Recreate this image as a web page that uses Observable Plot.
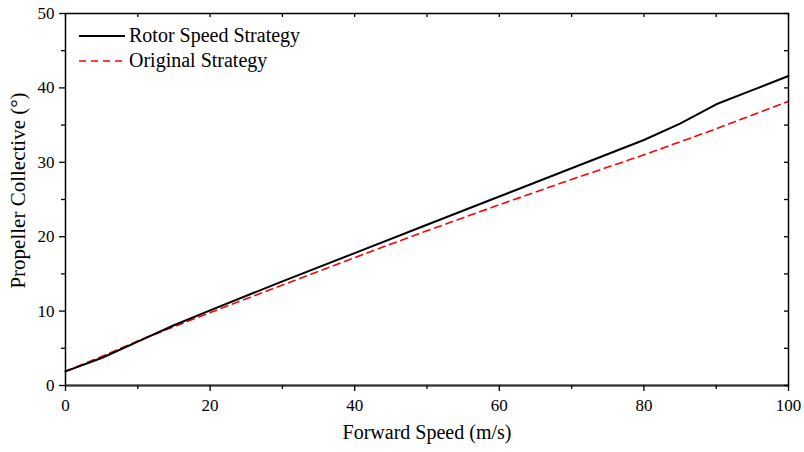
<!DOCTYPE html>
<html>
<head>
<meta charset="utf-8">
<script src="https://cdn.jsdelivr.net/npm/d3@7"></script>
<script src="https://cdn.jsdelivr.net/npm/@observablehq/plot@0.6"></script>
<style>
  html, body { margin: 0; padding: 0; background: #fff; }
  #wrap { position: relative; width: 804px; height: 452px; font-family: "Liberation Serif", "Times New Roman", serif; }
  #legend { position: absolute; left: 79px; top: 23px; font-size: 20px; color: #000; }
  #legend .row { display: flex; align-items: center; height: 25px; }
  #legend svg { margin-right: 4px; }
  svg text { font-family: "Liberation Serif", "Times New Roman", serif; }
</style>
</head>
<body>
<div id="wrap">
  <div id="chart"></div>
  <div id="legend"></div>
</div>
<script>
// Data
const speed = [0, 5, 10, 15, 20, 30, 40, 50, 60, 70, 80, 85, 90, 95, 100];
const rotorSpeedStrategy = [1.9, 3.7, 5.9, 8.1, 10.1, 14.0, 17.8, 21.6, 25.4, 29.2, 33.0, 35.2, 37.8, 39.7, 41.6];
const originalSpeed = [0, 5, 10, 20, 30, 40, 50, 60, 70, 80, 90, 100];
const originalStrategy = [1.9, 3.9, 6.0, 9.8, 13.5, 17.2, 20.8, 24.3, 27.7, 31.0, 34.5, 38.2];

const xMajor = [0, 20, 40, 60, 80, 100];
const xMinor = [10, 30, 50, 70, 90];
const yMajor = [0, 10, 20, 30, 40, 50];
const yMinor = [5, 15, 25, 35, 45];

const seriesNames = ["Rotor Speed Strategy", "Original Strategy"];
const xLabel = "Forward Speed (m/s)";
const yLabel = "Propeller Collective (°)";

const rotor = speed.map((x, i) => ({x, y: rotorSpeedStrategy[i]}));
const orig = originalSpeed.map((x, i) => ({x, y: originalStrategy[i]}));

const W = 804, H = 452, mT = 13, mB = 67, mL = 65, mR = 16;
const innerH = H - mT - mB, innerW = W - mL - mR;
const font = "Liberation Serif, Times New Roman, serif";

const chart = Plot.plot({
  width: W,
  height: H,
  marginTop: mT,
  marginBottom: mB,
  marginLeft: mL,
  marginRight: mR,
  style: {fontFamily: font, fontSize: "17px", color: "#000", background: "#fff"},
  x: {domain: [0, 100]},
  y: {domain: [0, 50]},
  marks: [
    // lines
    Plot.line(orig, {x: "x", y: "y", stroke: "#ff0000", strokeWidth: 1.6, strokeDasharray: "7,5"}),
    Plot.line(rotor, {x: "x", y: "y", stroke: "#000", strokeWidth: 2}),
    // frame
    Plot.frame({stroke: "#000", strokeWidth: 1.5}),
    Plot.ruleY([0], {stroke: "#333", strokeWidth: 2}),
    // bottom axis
    Plot.axisX({ticks: xMajor, tickSize: 6, tickPadding: 7, tickFormat: d => d, label: null, fontSize: 17, fontFamily: font, fontVariant: "normal", strokeWidth: 1.3}),
    Plot.axisX({ticks: xMinor, tickSize: 4, tickFormat: () => "", label: null, strokeWidth: 1.3}),
    // left axis
    Plot.axisY({ticks: yMajor, tickSize: 6, tickPadding: 5, tickFormat: d => d, label: null, fontSize: 17, fontFamily: font, fontVariant: "normal", strokeWidth: 1.3}),
    Plot.axisY({ticks: yMinor, tickSize: 4, tickFormat: () => "", label: null, strokeWidth: 1.3}),
    // top inward ticks
    Plot.tickX(xMajor.concat(xMinor), {x: d => d, insetBottom: innerH - 4, stroke: "#000", strokeWidth: 1.3}),
    // right inward ticks
    Plot.tickY(yMajor.concat(yMinor), {y: d => d, insetLeft: innerW - 4, stroke: "#000", strokeWidth: 1.3}),
    // axis labels
    Plot.text([xLabel], {frameAnchor: "bottom", dy: 53, fontSize: 20, fill: "#000"}),
    Plot.text([yLabel], {frameAnchor: "left", textAnchor: "middle", dx: -47, dy: -9, rotate: -90, fontSize: 21, fill: "#000"})
  ]
});
document.getElementById("chart").appendChild(chart);

// legend
const legend = document.getElementById("legend");
const styles = [
  {stroke: "#000", dash: null, width: 2},
  {stroke: "#ff0000", dash: "7,5", width: 1.6}
];
seriesNames.forEach((name, i) => {
  const row = document.createElement("div");
  row.className = "row";
  const s = styles[i];
  row.innerHTML = `<svg width="46" height="10"><line x1="0" y1="5" x2="46" y2="5" stroke="${s.stroke}" stroke-width="${s.width}" ${s.dash ? `stroke-dasharray="${s.dash}"` : ""}/></svg><span>${name}</span>`;
  legend.appendChild(row);
});
</script>
</body>
</html>
